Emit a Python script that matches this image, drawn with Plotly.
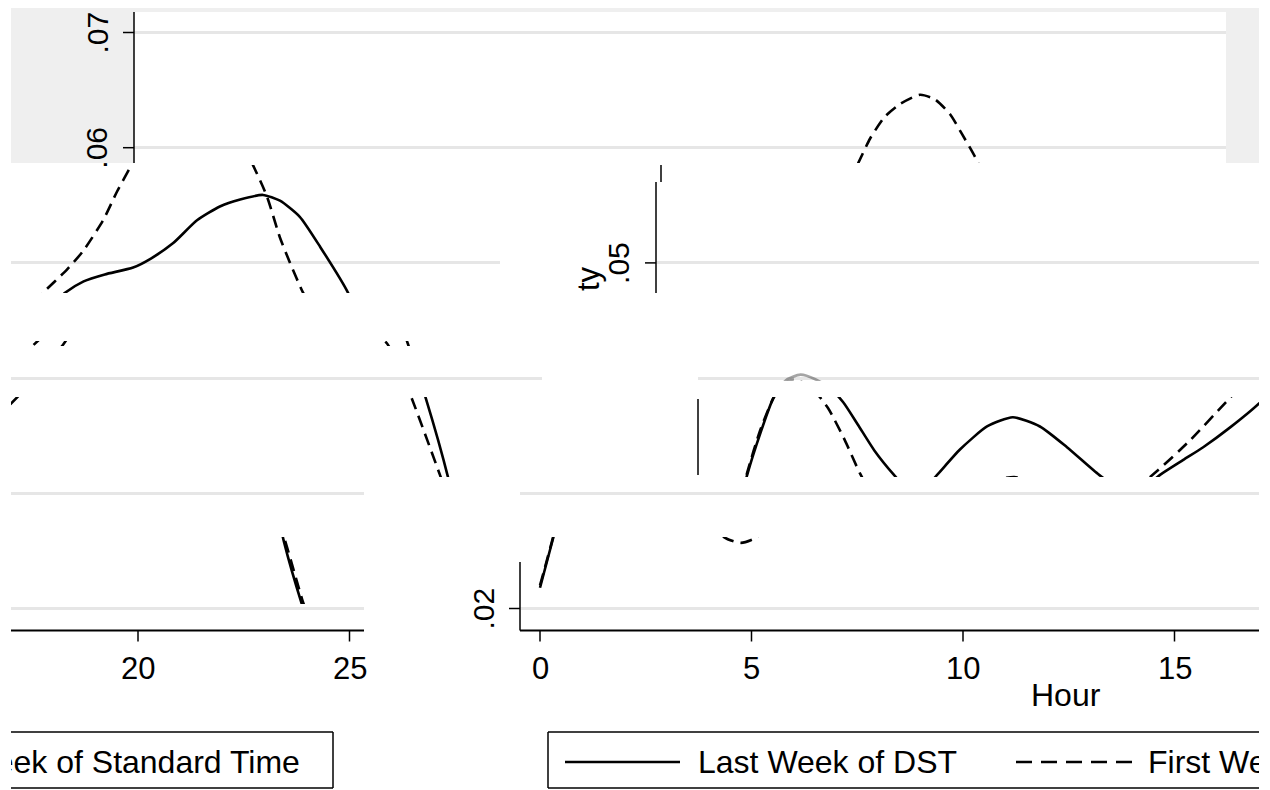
import plotly.graph_objects as go

# ---------------- data ----------------
series_names = ["Last Week of DST", "First Week of Standard Time"]
x_title = "Hour"
y_title_tail = "ty"          # only the end of "Density" is visible
x_ticks = [0, 5, 10, 15, 20, 25]
y_ticks = [0.02, 0.03, 0.04, 0.05, 0.06, 0.07]

hours_dst = [0.0, 0.31, 0.69, 1.0, 1.30, 1.6, 1.95, 2.3, 2.65, 2.96, 3.3, 3.7, 4.16, 4.5, 4.8,
             5.18, 5.72, 6.36, 6.97, 7.61, 8.25, 9.01, 9.5, 10.0, 10.45, 11.0, 11.47, 12.1,
             12.79, 13.4, 14.02, 14.5, 15.06, 15.5, 16.0, 16.67, 17.1, 17.61, 18.18, 18.72,
             19.2, 19.74, 20.14, 20.61, 21.09, 21.75, 22.17, 22.6, 23.12, 23.45, 23.88, 24.0]
dens_dst = [.0218, .0261, .0316, .0352, .0382, .0398, .0403, .0399, .0391, .0379, .0360, .0337,
            .0316, .0303, .0301, .0316, .0338, .0358, .0366, .0358, .0340, .0316, .0304, .0303,
            .0316, .0329, .0340, .0357, .0378, .0402, .0429, .0455, .0474, .0484, .0490, .0496,
            .0504, .0517, .0537, .0549, .0555, .0559, .0554, .0540, .0514, .0474, .0430, .0382,
            .0314, .0258, .0203, .0190]

hours_std = [0.0, 0.31, 0.69, 1.0, 1.30, 1.5, 1.8, 2.2, 2.6, 3.0, 3.36, 3.8, 4.35, 4.75, 5.13,
             5.6, 6.0, 6.4, 7.0, 7.5, 8.2, 9.0, 9.7, 10.4, 11.16, 12.03, 12.7, 13.3, 14.0, 14.54,
             15.1, 15.48, 15.96, 16.29, 16.6, 16.93, 17.28, 17.64, 18.11, 18.46, 18.82, 19.10,
             19.41, 19.83, 20.14, 20.38, 20.69, 21.1, 21.68, 22.0, 22.34, 22.93, 23.45, 23.88, 24.0]
dens_std = [.0220, .0262, .0318, .0355, .0382, .0393, .0399, .0392, .0374, .0346, .0317, .0289,
            .0262, .0257, .0262, .0285, .0301, .0311, .0314, .0311, .0303, .0297, .0300, .0320,
            .0346, .0380, .0406, .0428, .0452, .0474, .0494, .0510, .0537, .0562, .0583, .0608,
            .0627, .0638, .0646, .0642, .0629, .0612, .0592, .0558, .0522, .0500, .0474, .0450,
            .0430, .0407, .0375, .0316, .0262, .0208, .0195]

# ---------------- geometry of the (sliced) picture ----------------
W, H = 1270, 790
PAGE = 8                    # the page body margin that shifts the figure
HX0, PXH = 154.0, 42.3      # pixel of hour 0 and pixels per hour in the unshifted chart
VY0, PXV = 608.5, 11520.0   # pixel of density .02 and pixels per density unit
WRAP = 1248                 # width of the row that is cyclically shifted
B1, B2, B3 = 522, 564, 386  # horizontal shifts of the three lower bands
FONT = "Liberation Sans, Arial, sans-serif"
GRID = "#e6e6e6"


def hr(px):
    return (px - HX0) / PXH


def dn(py):
    return 0.02 + (VY0 - py) / PXV


def px_h(h):
    return HX0 + PXH * h


def py_v(v):
    return VY0 - PXV * (v - 0.02)


def xp(px):
    return (px - PAGE) / W


def yp(py):
    return 1 - (py - PAGE) / H


# tiles: screen rect (x0, x1, y0, y1), offset (orig = screen - off), kind, opacity
tiles = [
    (134, 1226, 12, 163, 0, "both", 1),
    (11, 500, 165, 293, B1 - WRAP, "both", 1),
    (656, 1259, 165, 293, B1, "both", 1),
    (11, 542, 300, 396, B2 - WRAP, "grid", 1),
    (698, 1259, 300, 396, B2, "grid", 1),
    (11, 542, 397, 477, B2 - WRAP, "curve", 1),
    (698, 1259, 397, 477, B2, "curve", 1),
    (11, 542, 341, 346, B2 - WRAP, "curve", 1),
    (760, 860, 371, 381, B2, "curve", 0.35),
    (11, 364, 485, 630.5, B3 - WRAP, "grid", 1),
    (520, 1259, 485, 630.5, B3, "grid", 1),
    (11, 364, 537, 604, B3 - WRAP, "curve", 1),
    (520, 1259, 537, 604, B3, "curve", 1),
    (11, 364, 725, 797, B3 - WRAP - 5, "text", 1),
    (520, 1259, 725, 797, B3, "text", 1),
]

fig = go.Figure()
layout_axes = {}
for i, (x0, x1, y0, y1, off, kind, op) in enumerate(tiles, start=1):
    xa = "x" if i == 1 else f"x{i}"
    ya = "y" if i == 1 else f"y{i}"
    xk = "xaxis" if i == 1 else f"xaxis{i}"
    yk = "yaxis" if i == 1 else f"yaxis{i}"
    layout_axes[xk] = dict(domain=[xp(x0), xp(x1)], range=[hr(x0 - off), hr(x1 - off)],
                           anchor=ya, showgrid=False, zeroline=False, showline=False,
                           showticklabels=False, ticks="", fixedrange=True)
    layout_axes[yk] = dict(domain=[yp(y1), yp(y0)], range=[dn(y1), dn(y0)],
                           anchor=xa, showgrid=kind in ("grid", "both"), gridcolor=GRID,
                           gridwidth=2.5, tick0=0, dtick=0.01, zeroline=False,
                           showline=False, showticklabels=False, ticks="", fixedrange=True)
    if kind in ("curve", "both"):
        fig.add_trace(go.Scatter(x=hours_dst, y=dens_dst, mode="lines", xaxis=xa, yaxis=ya,
                                 line=dict(color="black", width=2.6, shape="spline", smoothing=0.6),
                                 opacity=op, showlegend=False, hoverinfo="skip"))
        fig.add_trace(go.Scatter(x=hours_std, y=dens_std, mode="lines", xaxis=xa, yaxis=ya,
                                 line=dict(color="black", width=2.6, dash="12px,7px",
                                           shape="spline", smoothing=0.6),
                                 opacity=op, showlegend=False, hoverinfo="skip"))
    elif kind == "text":
        fig.add_trace(go.Scatter(x=[hr(312), hr(762)], y=[dn(765), dn(765)], mode="text",
                                 text=series_names, textposition="middle right",
                                 textfont=dict(family=FONT, size=32, color="black"),
                                 xaxis=xa, yaxis=ya, showlegend=False, hoverinfo="skip",
                                 cliponaxis=True))
    else:
        fig.add_trace(go.Scatter(x=[], y=[], xaxis=xa, yaxis=ya, showlegend=False))

shapes = []


def rect(x0, y0, x1, y1, color):
    shapes.append(dict(type="rect", xref="paper", yref="paper", x0=xp(x0), x1=xp(x1),
                       y0=yp(y1), y1=yp(y0), fillcolor=color, line=dict(width=0),
                       layer="below"))


def seg(x0, y0, x1, y1, width=1.5, color="black", dash=None):
    ln = dict(color=color, width=width)
    if dash:
        ln["dash"] = dash
    shapes.append(dict(type="line", xref="paper", yref="paper", x0=xp(x0), x1=xp(x1),
                       y0=yp(y0), y1=yp(y1), line=ln, layer="above"))


# grey graph region of the top band and its white plot region
rect(11, 6, 1259, 163, "#efefef")
rect(134, 12, 1226, 163, "white")

# y axis pieces
seg(134, 12, 134, 163)
seg(656, 182, 656, 293)
seg(661, 165, 661, 182)
seg(698, 399, 698, 475)
seg(520, 562, 520, 630.5)

annotations = []


def label(text, x, y, size=30, angle=0):
    annotations.append(dict(text=text, x=xp(x), y=yp(y), xref="paper", yref="paper",
                            showarrow=False, xanchor="center", yanchor="middle",
                            textangle=angle, font=dict(family=FONT, size=size, color="black")))


def ylab(v):
    return f"{v:.2f}".lstrip("0")


# y ticks + labels per band (axis at x position, tick 11 px, label centre 37 px left)
for v, ax in [(y_ticks[5], 134), (y_ticks[4], 134), (y_ticks[3], 656), (y_ticks[0], 520)]:
    yy = py_v(v)
    seg(ax - 11, yy, ax, yy)
    label(ylab(v), ax - 37, yy, angle=-90)

label(y_title_tail, 588, 279, size=31, angle=-90)

# x axis (bottom band)
seg(520, 630.5, 1259, 630.5, width=2)
seg(11, 630.5, 364, 630.5, width=2)
for h in x_ticks:
    sx = px_h(h) + B3
    if sx > 1259:
        sx -= WRAP
    seg(sx, 630.5, sx, 641.5)
    label(str(h), sx, 668, size=31)
label(x_title, px_h(hr((134 + 1226) / 2)) + B3, 695, size=32)

# legend box pieces
seg(548, 732, 1259, 732)
seg(548, 732, 548, 788)
seg(548, 788, 1259, 788)
seg(11, 732, 333, 732)
seg(333, 732, 333, 788)
seg(11, 788, 333, 788)
seg(565, 762, 680, 762, width=2.6)
seg(1016, 762, 1133, 762, width=2.6, dash="16px,9px")

fig.update_layout(width=W, height=H, margin=dict(l=0, r=0, t=0, b=0),
                  paper_bgcolor="white", plot_bgcolor="rgba(0,0,0,0)",
                  shapes=shapes, annotations=annotations, showlegend=False,
                  **layout_axes)

fig.write_html("out.html")
